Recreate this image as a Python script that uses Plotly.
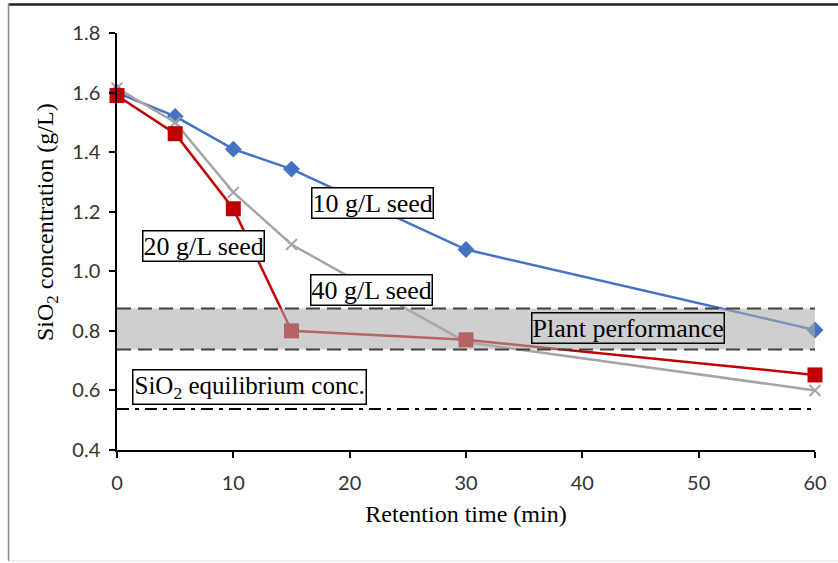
import plotly.graph_objects as go

time_min = [0, 5, 10, 15, 30, 60]
seed10 = [1.60, 1.52, 1.41, 1.343, 1.073, 0.803]
seed20 = [1.59, 1.462, 1.21, 0.80, 0.77, 0.652]
seed40 = [1.615, 1.50, 1.265, 1.09, 0.762, 0.60]

plant_low, plant_high = 0.737, 0.875
equilibrium = 0.538

labels = [
    ("10 g/L seed", 22.0, 1.229),
    ("20 g/L seed", 7.4, 1.085),
    ("40 g/L seed", 21.9, 0.937),
]

fig = go.Figure()
fig.add_trace(go.Scatter(x=time_min, y=seed10, mode="lines+markers", cliponaxis=False,
                         line=dict(color="#4472C4", width=2.5),
                         marker=dict(symbol="diamond", size=13, color="#4472C4")))
fig.add_trace(go.Scatter(x=time_min, y=seed40, mode="lines+markers", cliponaxis=False,
                         line=dict(color="#A5A5A5", width=2.5),
                         marker=dict(symbol="x-thin-open", size=11,
                                     line=dict(color="#A5A5A5", width=2))))
fig.add_trace(go.Scatter(x=time_min, y=seed20, mode="lines+markers", cliponaxis=False,
                         line=dict(color="#C00000", width=2.5),
                         marker=dict(symbol="square", size=15, color="#C00000")))

# plant performance band (drawn above the lines)
fig.add_shape(type="rect", xref="x", yref="y", x0=0, x1=60, y0=plant_low, y1=plant_high,
              fillcolor="rgba(173,173,173,0.58)", line=dict(width=0), layer="above")
for yv in (plant_low, plant_high):
    fig.add_shape(type="line", xref="x", yref="y", x0=0, x1=60.4, y0=yv, y1=yv,
                  line=dict(color="#404040", width=2, dash="14px,7px"), layer="above")
fig.add_shape(type="line", xref="x", yref="y", x0=0, x1=59.8, y0=equilibrium, y1=equilibrium,
              line=dict(color="black", width=2, dash="12px,6px,4px,6px"), layer="above")

# outer frame
fig.add_shape(type="line", xref="paper", yref="paper", x0=-0.1554, x1=1.04, y0=1.0683, y1=1.0683,
              line=dict(color="#222222", width=2.5))
fig.add_shape(type="line", xref="paper", yref="paper", x0=-0.1554, x1=-0.1554, y0=1.0707, y1=-0.2662,
              line=dict(color="#8a8a8a", width=1.5))
fig.add_shape(type="line", xref="paper", yref="paper", x0=-0.1554, x1=1.04, y0=-0.2662, y1=-0.2662,
              line=dict(color="#e0e0e0", width=1))

tf = dict(family="Liberation Serif", size=26, color="black")
for txt, xv, yv in labels:
    fig.add_annotation(x=xv, y=yv, xref="x", yref="y", text=txt, showarrow=False, font=tf,
                       bgcolor="white", bordercolor="black", borderwidth=1.5, borderpad=0)
fig.add_annotation(x=43.9, y=0.81, xref="x", yref="y", text="Plant performance", showarrow=False,
                   font=tf, bordercolor="black", borderwidth=1.5, borderpad=0)
fig.add_annotation(x=11.4, y=0.611, xref="x", yref="y", text="SiO<sub>2</sub> equilibrium conc.",
                   showarrow=False, font=dict(family="Liberation Serif", size=25, color="black"),
                   bgcolor="white", bordercolor="black", borderwidth=1.5, borderpad=1)

# y-axis title
fig.add_annotation(x=(30 - 117) / 698, y=(450 - 222) / 417, xref="paper", yref="paper",
                   text="SiO<sub>2</sub> concentration (g/L)", textangle=-90, showarrow=False,
                   font=dict(family="Liberation Serif", size=24, color="black"))

tickfont = dict(family="Lato", size=20, color="#333333")
fig.update_xaxes(range=[0, 60], tickvals=[0, 10, 20, 30, 40, 50, 60], showgrid=False, zeroline=False,
                 showline=True, linecolor="black", linewidth=1.5, ticks="outside", ticklen=6,
                 tickcolor="black", tickwidth=1.5, tickfont=tickfont, ticklabelstandoff=8,
                 title=dict(text="Retention time (min)", standoff=12,
                            font=dict(family="Liberation Serif", size=24, color="black")))
fig.update_yaxes(range=[0.4, 1.8], tickvals=[0.4, 0.6, 0.8, 1.0, 1.2, 1.4, 1.6, 1.8],
                 ticktext=["0.4", "0.6", "0.8", "1.0", "1.2", "1.4", "1.6", "1.8"],
                 showgrid=False, zeroline=False, showline=True, linecolor="black", linewidth=1.5,
                 ticks="outside", ticklen=6, tickcolor="black", tickwidth=1.5, tickfont=tickfont,
                 ticklabelstandoff=5)

fig.update_layout(width=838, height=563, margin=dict(l=117, r=23, t=33, b=113),
                  plot_bgcolor="white", paper_bgcolor="white", showlegend=False)
fig.write_html("out.html", config={"displayModeBar": False},
               post_script="document.body.style.margin='0px';")
